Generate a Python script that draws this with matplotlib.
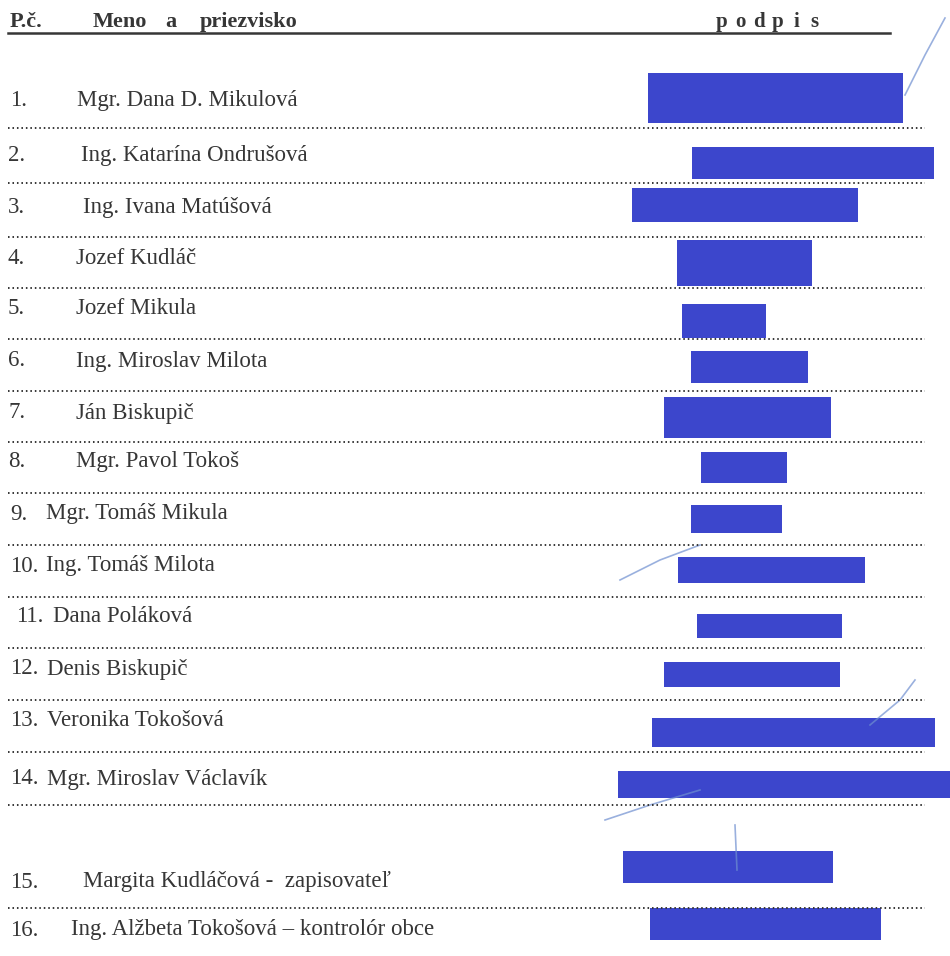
import matplotlib.pyplot as plt
import numpy as np

plt.rcParams['font.family'] = ['Liberation Serif', 'DejaVu Serif']

# rows of the attendance sheet
numbers = ['1.', '2.', '3.', '4.', '5.', '6.', '7.', '8.', '9.', '10.', '11.', '12.',
           '13.', '14.', '15.', '16.']
names = ['Mgr. Dana D. Mikulová', 'Ing. Katarína Ondrušová', 'Ing. Ivana Matúšová',
         'Jozef Kudláč', 'Jozef Mikula', 'Ing. Miroslav Milota', 'Ján Biskupič',
         'Mgr. Pavol Tokoš', 'Mgr. Tomáš Mikula', 'Ing. Tomáš Milota', 'Dana Poláková',
         'Denis Biskupič', 'Veronika Tokošová', 'Mgr. Miroslav Václavík',
         'Margita Kudláčová -  zapisovateľ', 'Ing. Alžbeta Tokošová – kontrolór obce']
row_y = [100, 155, 207, 259, 308, 361, 413, 461, 514, 566, 617, 669, 721, 779, 882, 930]
dots_y = [128, 183, 237, 288, 339, 391, 442, 493, 545, 597, 648, 700, 752, 805, 908]

# header words
head_words = ['P.č.', 'Meno', 'a', 'priezvisko']
sign_letters = list('podpis')

# redaction boxes over the signatures
box_left = [648, 692, 632, 677, 682, 691, 664, 701, 691, 678, 697, 664, 652, 618, 623, 650]
box_right = [903, 934, 858, 812, 766, 808, 831, 787, 782, 865, 842, 840, 935, 950, 833, 881]
box_top = [73, 147, 188, 240, 304, 351, 397, 452, 505, 557, 614, 662, 718, 771, 851, 908]
box_bottom = [123, 179, 222, 286, 338, 383, 438, 483, 533, 583, 638, 687, 747, 798, 883, 940]

# layout of the text columns
num_x = [10, 8, 8, 8, 8, 8, 8, 8, 10, 10, 16, 10, 10, 10, 10, 10]
name_x = [77, 81, 83, 76, 76, 76, 76, 76, 46, 46, 53, 47, 47, 47, 83, 71]
head_x = [10, 93, 165, 200]

fig = plt.figure(figsize=(9.5, 9.56), dpi=100)
ax = fig.add_axes([0, 0, 1, 1])
ax.set_xlim(0, 950)
ax.set_ylim(956, 0)
ax.axis('off')

ink = '#363636'

# header
for w, x in zip(head_words, head_x):
    ax.text(x, 22, w, fontsize=16, fontweight='bold', color=ink, va='center')
for i, ch in enumerate(sign_letters):
    ax.text(722 + i * 18.5, 22, ch, fontsize=15, fontweight='bold', color=ink,
            va='center', ha='center')
ax.plot([8, 890], [33, 33], color=ink, lw=1.8)

# faint signature strokes
strokes = [
    ([905, 925, 945], [95, 55, 18]),
    ([620, 660, 700], [580, 560, 545]),
    ([870, 900, 915], [725, 700, 680]),
    ([605, 650, 700], [820, 805, 790]),
    ([735, 737], [825, 870]),
]
for sx, sy in strokes:
    ax.plot(sx, sy, color='#6f8fd0', lw=1.2, alpha=0.7)

for y in dots_y:
    ax.plot([8, 925], [y, y], color=ink, lw=1.4, linestyle=(0, (0.8, 1.5)))

for n, nm, y, nx, mx in zip(numbers, names, row_y, num_x, name_x):
    ax.text(nx, y, n, fontsize=16.5, color=ink, va='center')
    ax.text(mx, y, nm, fontsize=16.5, color=ink, va='center')

widths = np.array(box_right) - np.array(box_left)
heights = np.array(box_bottom) - np.array(box_top)
centers = (np.array(box_bottom) + np.array(box_top)) / 2
ax.barh(centers, widths, height=heights, left=box_left, color='#3c46cc')

fig.savefig('out.png', dpi=100)
